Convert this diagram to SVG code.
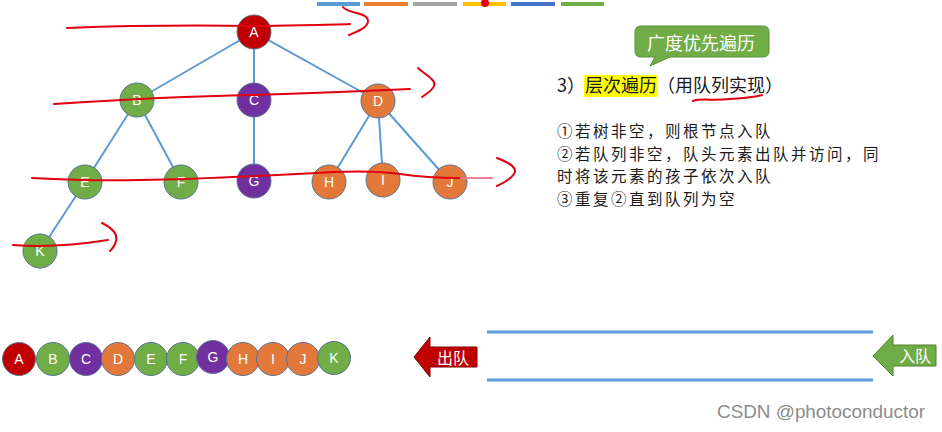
<svg xmlns="http://www.w3.org/2000/svg" width="942" height="432" viewBox="0 0 942 432">
<style>
.edge{stroke:#5b9bd5;stroke-width:2;fill:none}
.n{stroke:#5a7391;stroke-width:1}
.red{fill:#c00000}.grn{fill:#70ad47}.pur{fill:#7030a0}.org{fill:#e2793a}
.lbl{font-family:"Liberation Sans","Open Sans",sans-serif;font-size:14px;fill:#fff;text-anchor:middle}
.ink{stroke:#e00010;stroke-width:2;fill:none;stroke-linecap:round}
.cn{font-family:"Noto Sans CJK SC",sans-serif;font-size:18px;fill:#1a1a1a}
.cs{font-family:"Noto Sans CJK SC",sans-serif;font-size:15.5px;letter-spacing:2.5px;fill:#1a1a1a}
.ql{stroke:#5b9bd5;stroke-width:3}
</style>
<rect width="942" height="432" fill="#fff"/>
<g id="legend-bars" stroke-width="4">
<line x1="317" y1="4" x2="360" y2="4" stroke="#5b9bd5"/>
<line x1="364" y1="4" x2="408" y2="4" stroke="#ed7d31"/>
<line x1="413" y1="4" x2="457" y2="4" stroke="#a5a5a5"/>
<line x1="463" y1="4" x2="506" y2="4" stroke="#ffc000"/>
<line x1="511" y1="4" x2="555" y2="4" stroke="#4472c4"/>
<line x1="561" y1="4" x2="604" y2="4" stroke="#70ad47"/>
<circle cx="485" cy="3" r="4" fill="#e00010"/>
</g>
<g id="connectors">
<line class="edge" x1="254" y1="32" x2="137" y2="100"/>
<line class="edge" x1="254" y1="32" x2="254" y2="100"/>
<line class="edge" x1="254" y1="32" x2="378" y2="101"/>
<line class="edge" x1="137" y1="100" x2="85" y2="182"/>
<line class="edge" x1="137" y1="100" x2="181" y2="182"/>
<line class="edge" x1="254" y1="100" x2="254" y2="181"/>
<line class="edge" x1="378" y1="101" x2="329" y2="182"/>
<line class="edge" x1="378" y1="101" x2="383" y2="180"/>
<line class="edge" x1="378" y1="101" x2="450" y2="182"/>
<line class="edge" x1="85" y1="182" x2="40" y2="251"/>
</g>
<g id="node-A"><circle class="n red" cx="254" cy="32" r="17"/><text class="lbl" x="254" y="37">A</text></g>
<g id="node-B"><circle class="n grn" cx="137" cy="100" r="17"/><text class="lbl" x="137" y="105">B</text></g>
<g id="node-C"><circle class="n pur" cx="254" cy="100" r="17"/><text class="lbl" x="254" y="105">C</text></g>
<g id="node-D"><circle class="n org" cx="378" cy="101" r="17"/><text class="lbl" x="378" y="106">D</text></g>
<g id="node-E"><circle class="n grn" cx="85" cy="182" r="17"/><text class="lbl" x="85" y="187">E</text></g>
<g id="node-F"><circle class="n grn" cx="181" cy="182" r="17"/><text class="lbl" x="181" y="187">F</text></g>
<g id="node-G"><circle class="n pur" cx="254" cy="181" r="17"/><text class="lbl" x="254" y="186">G</text></g>
<g id="node-H"><circle class="n org" cx="329" cy="182" r="17"/><text class="lbl" x="329" y="187">H</text></g>
<g id="node-I"><circle class="n org" cx="383" cy="180" r="17"/><text class="lbl" x="383" y="185">I</text></g>
<g id="node-J"><circle class="n org" cx="450" cy="182" r="17"/><text class="lbl" x="450" y="187">J</text></g>
<g id="node-K"><circle class="n grn" cx="40" cy="251" r="17"/><text class="lbl" x="40" y="256">K</text></g>
<g id="ink-marks">
<path class="ink" d="M67,28 C120,26 180,25 254,26 C300,25 330,25 350,24"/>
<path class="ink" d="M343,7 C348,14 368,12 368,21 C368,28 356,32 349,35"/>
<path class="ink" d="M54,104 C130,99 200,96 253,95 C320,93 370,91 410,89"/>
<path class="ink" d="M418,68 C424,74 437,80 434,86 C432,91 426,94 422,97"/>
<path class="ink" d="M32,178 C70,180 100,181 140,180 C200,179 260,176 333,172 C360,171 380,171 400,174 C420,177 440,178 460,178"/>
<path d="M460,178 L493,178" stroke="#f08090" stroke-width="2"/>
<path class="ink" d="M497,158 C510,163 518,168 514,174 C510,180 503,183 497,186"/>
<path class="ink" d="M13,245 C40,247 70,246 108,240"/>
<path class="ink" d="M102,223 C112,228 118,234 116,241 C115,246 112,249 110,251"/>
<path class="ink" d="M693,101 C700,98 712,101 730,99 C745,98 755,97 762,95"/>
</g>
<g id="callout">
<path d="M641,26 H763 Q769,26 769,32 V51 Q769,57 763,57 H670 L650,66 L655,57 H641 Q635,57 635,51 V32 Q635,26 641,26 Z" fill="#70ad47" stroke="#5a8f3a" stroke-width="1"/>
<text x="701" y="50" font-family="Noto Sans CJK SC,sans-serif" font-size="18" fill="#fff" text-anchor="middle">广度优先遍历</text>
</g>
<g id="description">
<rect x="584" y="75" width="73" height="22" fill="#ffff00"/>
<text class="cn" x="557" y="92">3）层次遍历（用队列实现）</text>
<text class="cs" x="557" y="137">①若树非空，则根节点入队</text>
<text class="cs" x="557" y="159.5">②若队列非空，队头元素出队并访问，同</text>
<text class="cs" x="557" y="182">时将该元素的孩子依次入队</text>
<text class="cs" x="557" y="204.5">③重复②直到队列为空</text>
</g>
<g id="queue-output">
<g id="q-A"><circle class="n red" cx="19" cy="359" r="16.5"/><text class="lbl" x="19" y="364">A</text></g>
<g id="q-B"><circle class="n grn" cx="53" cy="359" r="16.5"/><text class="lbl" x="53" y="364">B</text></g>
<g id="q-C"><circle class="n pur" cx="86" cy="359" r="16.5"/><text class="lbl" x="86" y="364">C</text></g>
<g id="q-D"><circle class="n org" cx="118" cy="359" r="16.5"/><text class="lbl" x="118" y="364">D</text></g>
<g id="q-E"><circle class="n grn" cx="151" cy="359" r="16.5"/><text class="lbl" x="151" y="364">E</text></g>
<g id="q-F"><circle class="n grn" cx="183" cy="359" r="16.5"/><text class="lbl" x="183" y="364">F</text></g>
<g id="q-G"><circle class="n pur" cx="213" cy="357" r="16.5"/><text class="lbl" x="213" y="362">G</text></g>
<g id="q-H"><circle class="n org" cx="243" cy="359" r="16.5"/><text class="lbl" x="243" y="364">H</text></g>
<g id="q-I"><circle class="n org" cx="273" cy="359" r="16.5"/><text class="lbl" x="273" y="364">I</text></g>
<g id="q-J"><circle class="n org" cx="303" cy="359" r="16.5"/><text class="lbl" x="303" y="364">J</text></g>
<g id="q-K"><circle class="n grn" cx="334" cy="358" r="16.5"/><text class="lbl" x="334" y="363">K</text></g>
</g>
<g id="dequeue-arrow">
<polygon points="414,357 430,337 430,347 477,347 477,367 430,367 430,377" fill="#c00000" stroke="#7f0000" stroke-width="1"/>
<text x="453" y="364" font-family="Noto Sans CJK SC,sans-serif" font-size="16" fill="#fff" text-anchor="middle">出队</text>
</g>
<g id="queue">
<line class="ql" x1="487" y1="332" x2="873" y2="332"/>
<line class="ql" x1="487" y1="380" x2="873" y2="380"/>
</g>
<g id="enqueue-arrow">
<polygon points="873,356 893,335 893,345 936,345 936,366 893,366 893,376" fill="#70ad47" stroke="#507e32" stroke-width="1"/>
<text x="915" y="362" font-family="Noto Sans CJK SC,sans-serif" font-size="16" fill="#fff" text-anchor="middle">入队</text>
</g>
<text x="717" y="418" font-family="Liberation Sans,Arial,sans-serif" font-size="18.5" fill="#8c8c8c" textLength="208" lengthAdjust="spacingAndGlyphs">CSDN @photoconductor</text>
</svg>
